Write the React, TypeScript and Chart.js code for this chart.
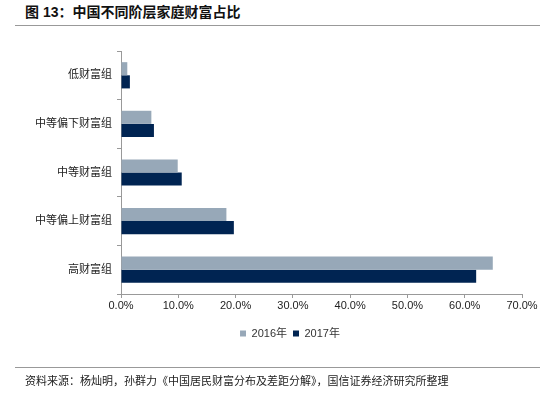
import React, { useEffect, useRef } from "react";
import { Chart, registerables } from "chart.js";

Chart.register(...registerables);

const categories = ["低财富组", "中等偏下财富组", "中等财富组", "中等偏上财富组", "高财富组"];
const series2016 = [1.1, 5.3, 9.9, 18.4, 64.9];
const series2017 = [1.55, 5.75, 10.6, 19.7, 62.0];
const seriesNames = ["2016年", "2017年"];
const xTicks = [0, 10, 20, 30, 40, 50, 60, 70];

const FONT = "'Liberation Sans', Arial, 'Noto Sans CJK SC', sans-serif";

const legendShift = {
  id: "legendShift",
  afterLayout(chart: any) {
    const lg = chart.legend;
    if (!lg) return;
    lg.left += 14;
    lg.right += 14;
    lg.top += 4;
    lg.bottom += 4;
  },
};

export default function App() {
  const ref = useRef<HTMLCanvasElement | null>(null);

  useEffect(() => {
    if (!ref.current) return;
    const chart = new Chart(ref.current, {
      type: "bar",
      data: {
        labels: categories,
        datasets: [
          {
            label: seriesNames[0],
            data: series2016,
            backgroundColor: "#97A8B8",
            borderWidth: 0,
            barPercentage: 1,
            categoryPercentage: 0.54,
          },
          {
            label: seriesNames[1],
            data: series2017,
            backgroundColor: "#002452",
            borderWidth: 0,
            barPercentage: 1,
            categoryPercentage: 0.54,
          },
        ],
      },
      options: {
        indexAxis: "y",
        animation: false,
        responsive: false,
        maintainAspectRatio: false,
        layout: { padding: { top: 51, right: 18, bottom: 52, left: 30 } },
        plugins: {
          tooltip: { enabled: false },
          title: { display: false },
          legend: {
            position: "bottom",
            align: "center",
            labels: {
              boxWidth: 6,
              boxHeight: 6,
              padding: 6,
              color: "#333",
              font: { family: FONT, size: 11 },
            },
          },
        },
        scales: {
          x: {
            type: "linear",
            min: 0,
            max: 70,
            afterBuildTicks: (s: any) => {
              s.ticks = xTicks.map((v) => ({ value: v }));
            },
            afterFit: (s: any) => {
              s.height = 24;
            },
            grid: {
              drawOnChartArea: false,
              drawTicks: true,
              tickLength: 4,
              color: "#999",
            },
            border: { color: "#999", width: 1 },
            ticks: {
              padding: 1,
              color: "#222",
              font: { family: FONT, size: 11 },
              callback: (v: any) => Number(v).toFixed(1) + "%",
            },
          },
          y: {
            type: "category",
            afterFit: (s: any) => {
              s.width = 91;
            },
            grid: {
              drawOnChartArea: false,
              drawTicks: true,
              tickLength: 4,
              color: "#999",
              offset: true,
            },
            border: { color: "#999", width: 1 },
            ticks: {
              padding: 5,
              color: "#222",
              font: { family: FONT, size: 11 },
            },
          },
        },
      },
      plugins: [legendShift],
    });
    return () => chart.destroy();
  }, []);

  return (
    <div
      style={{
        position: "absolute",
        left: 0,
        top: 0,
        width: 540,
        height: 397,
        background: "#fff",
        overflow: "hidden",
      }}
    >
      <div
        style={{
          position: "absolute",
          left: 25,
          top: 3,
          fontFamily: FONT,
          fontWeight: "bold",
          fontSize: 14,
          lineHeight: "18px",
          color: "#111",
          whiteSpace: "nowrap",
        }}
      >
        图 13：中国不同阶层家庭财富占比
      </div>
      <div
        style={{
          position: "absolute",
          left: 15,
          top: 25,
          width: 525,
          height: 1,
          background: "#999",
        }}
      />
      <canvas
        ref={ref}
        width={540}
        height={397}
        style={{ position: "absolute", left: 0, top: 0, width: 540, height: 397 }}
      />
      <div
        style={{
          position: "absolute",
          left: 15,
          top: 367,
          width: 525,
          height: 1,
          background: "#999",
        }}
      />
      <div
        style={{
          position: "absolute",
          left: 25,
          top: 374,
          fontFamily: FONT,
          fontSize: 11,
          lineHeight: "14px",
          color: "#222",
          whiteSpace: "nowrap",
        }}
      >
        资料来源：杨灿明，孙群力《中国居民财富分布及差距分解》，国信证券经济研究所整理
      </div>
    </div>
  );
}
